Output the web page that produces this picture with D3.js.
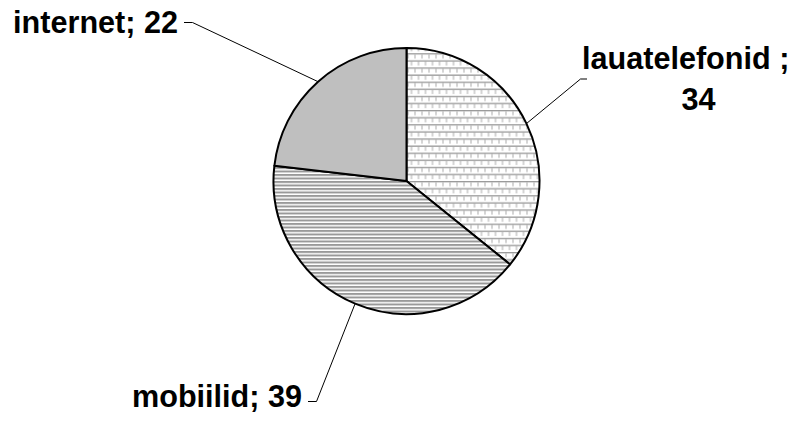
<!DOCTYPE html>
<html>
<head>
<meta charset="utf-8">
<script src="https://cdn.jsdelivr.net/npm/d3@7"></script>
<style>
  body { margin: 0; background: #fff; }
  .label { font-family: "Liberation Sans", Arial, sans-serif; font-weight: bold; font-size: 30.6px; fill: #000; }
</style>
</head>
<body>
<div class="chart"></div>
<script>
var svgWidth = 809;
var svgHeight = 427;

// data
var categories = ["lauatelefonid", "mobiilid", "internet"];
var values = [34, 39, 22];
var patterns = ["brick", "hstripe", "checker"];

var cx = 406.5;
var cy = 181;
var radius = 133;

var svg = d3.select(".chart")
  .append("svg")
  .attr("width", svgWidth)
  .attr("height", svgHeight);

// fill patterns
var defs = svg.append("defs");

var brick = defs.append("pattern")
  .attr("id", "brick")
  .attr("patternUnits", "userSpaceOnUse")
  .attr("width", 7).attr("height", 14.2);
brick.append("rect").attr("width", 7).attr("height", 14.2).attr("fill", "#fff");
brick.append("rect").attr("x", 0).attr("y", 0).attr("width", 7).attr("height", 1.3).attr("fill", "#999");
brick.append("rect").attr("x", 0).attr("y", 7.1).attr("width", 7).attr("height", 1.3).attr("fill", "#999");
brick.append("rect").attr("x", 1).attr("y", 1.3).attr("width", 1).attr("height", 4).attr("fill", "#aaa");
brick.append("rect").attr("x", 4.5).attr("y", 8.4).attr("width", 1).attr("height", 4).attr("fill", "#aaa");

var hstripe = defs.append("pattern")
  .attr("id", "hstripe")
  .attr("patternUnits", "userSpaceOnUse")
  .attr("width", 10).attr("height", 3.5);
hstripe.append("rect").attr("width", 10).attr("height", 3.5).attr("fill", "#fff");
hstripe.append("rect").attr("y", 0).attr("width", 10).attr("height", 2).attr("fill", "#999");

var checker = defs.append("pattern")
  .attr("id", "checker")
  .attr("patternUnits", "userSpaceOnUse")
  .attr("width", 2).attr("height", 2);
checker.append("rect").attr("width", 2).attr("height", 2).attr("fill", "#e4e4e4");
checker.append("rect").attr("x", 0).attr("y", 0).attr("width", 1).attr("height", 1).attr("fill", "#9a9a9a");
checker.append("rect").attr("x", 1).attr("y", 1).attr("width", 1).attr("height", 1).attr("fill", "#9a9a9a");

var pie = d3.pie()
  .sort(null)
  .value(function(d) { return d; });

var arc = d3.arc()
  .innerRadius(0)
  .outerRadius(radius);

var arcs = pie(values);

var chart = svg.append("g")
  .attr("transform", "translate(" + cx + "," + cy + ")");

chart.selectAll("path")
  .data(arcs)
  .enter().append("path")
    .attr("d", arc)
    .attr("fill", function(d, i) { return "url(#" + patterns[i] + ")"; })
    .attr("stroke", "#000")
    .attr("stroke-width", 2)
    .attr("stroke-linejoin", "round");

// label layout: elbow of the leader and its short horizontal end
var labelLayout = [
  { elbow: [580.5, 79], end: [587, 79] },
  { elbow: [316.5, 401.5], end: [308, 401.5] },
  { elbow: [192.5, 22.5], end: [184, 22.5] }
];

function edgePoint(d) {
  var a = (d.startAngle + d.endAngle) / 2;
  return [cx + radius * Math.sin(a), cy - radius * Math.cos(a)];
}

svg.selectAll(".leader")
  .data(arcs)
  .enter().append("polyline")
    .attr("class", "leader")
    .attr("points", function(d, i) {
      var p = edgePoint(d);
      return [p, labelLayout[i].elbow, labelLayout[i].end].map(function(q) { return q.join(","); }).join(" ");
    })
    .attr("fill", "none")
    .attr("stroke", "#000")
    .attr("stroke-width", 1);

// labels
svg.append("text")
  .attr("class", "label")
  .attr("x", 582)
  .attr("y", 69)
  .text(categories[0] + " ;");
svg.append("text")
  .attr("class", "label")
  .attr("x", 698.5)
  .attr("y", 110)
  .attr("text-anchor", "middle")
  .text(values[0]);

svg.append("text")
  .attr("class", "label")
  .attr("x", 302)
  .attr("y", 407)
  .attr("text-anchor", "end")
  .text(categories[1] + "; " + values[1]);

svg.append("text")
  .attr("class", "label")
  .attr("x", 178)
  .attr("y", 33)
  .attr("text-anchor", "end")
  .text(categories[2] + "; " + values[2]);
</script>
</body>
</html>
